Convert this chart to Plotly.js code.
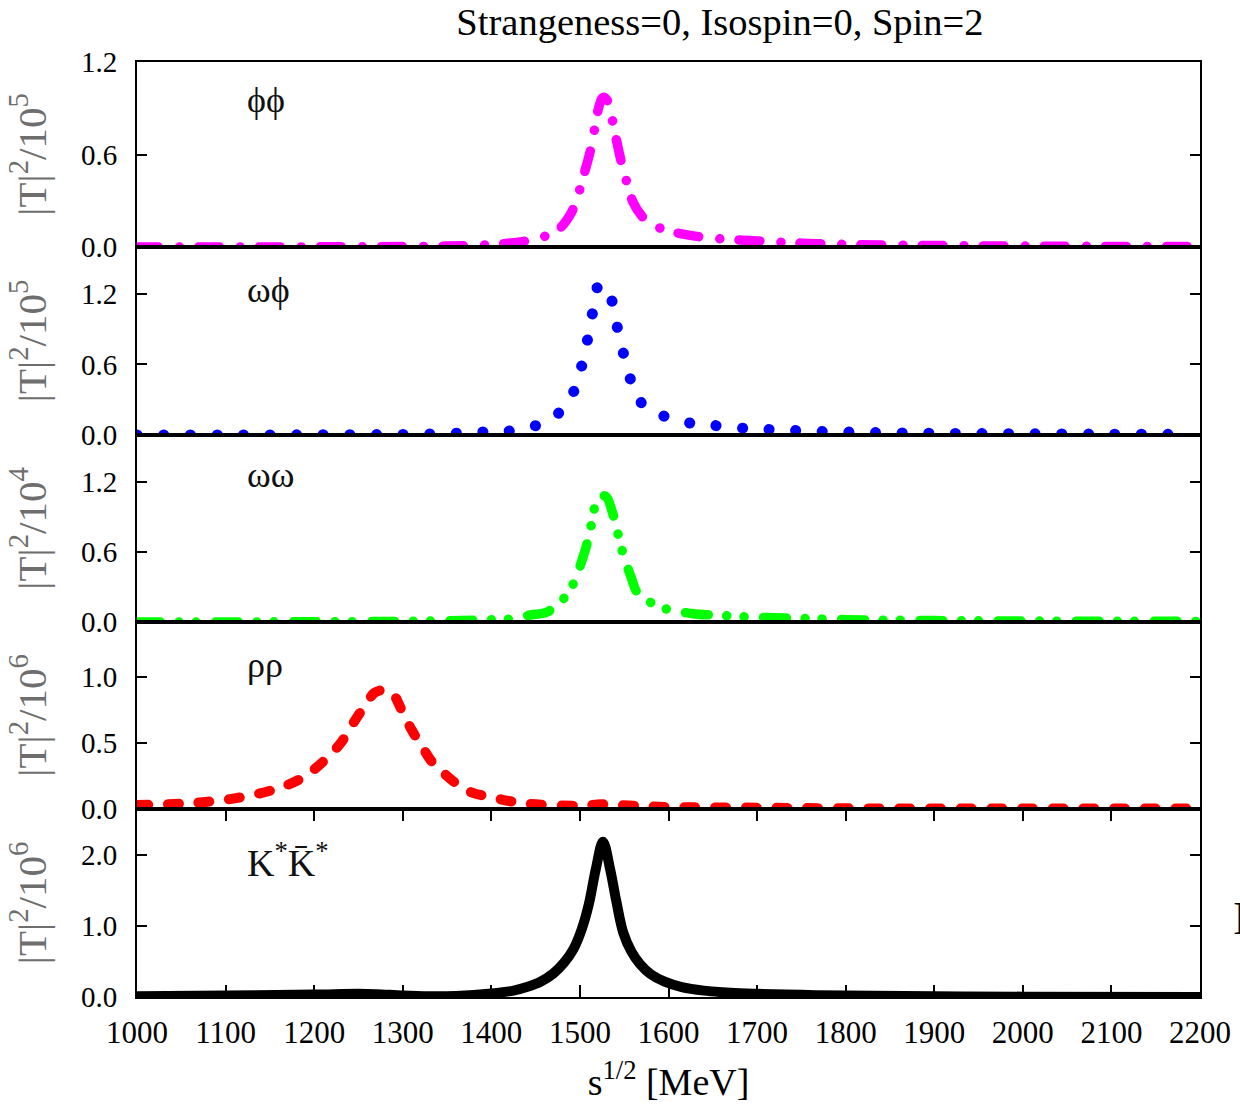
<!DOCTYPE html>
<html><head><meta charset="utf-8">
<script src="https://cdn.plot.ly/plotly-3.0.1.min.js"></script>
<style>html,body{margin:0;padding:0;background:#fff;}#chart{width:1240px;height:1110px;}</style>
</head><body><div id="chart"></div>
<script>
// ---- data ----
const xTicks = [1000,1100,1200,1300,1400,1500,1600,1700,1800,1900,2000,2100,2200];
const xTickLabels = ['1000','1100','1200','1300','1400','1500','1600','1700','1800','1900','2000','2100','2200'];

const xPhiPhi = [1000,1100,1200,1300,1350,1380,1410,1435,1455,1475,1490,1498,1505,1512,1517,1521,1526,1531,1536,1541,1548,1554,1560,1570,1580,1597,1615,1645,1700,1750,1800,1900,2000,2100,2190];
const yPhiPhi = [0.0,0.0,0.001,0.003,0.006,0.01,0.02,0.035,0.06,0.11,0.22,0.34,0.48,0.63,0.78,0.90,0.97,0.95,0.84,0.70,0.52,0.40,0.29,0.20,0.15,0.11,0.085,0.06,0.04,0.025,0.017,0.01,0.006,0.004,0.003];

const xOmegaPhi = [1000,1100,1200,1300,1350,1389,1415,1446,1472,1491,1501,1508,1514,1520,1526,1533,1540,1547,1555,1565,1589,1618,1647,1680,1720,1800,1900,2000,2100,2185];
const yOmegaPhi = [0.0,0.0,0.002,0.005,0.012,0.026,0.03,0.07,0.16,0.34,0.56,0.79,1.03,1.26,1.28,1.22,0.99,0.76,0.53,0.31,0.18,0.11,0.085,0.06,0.045,0.025,0.015,0.01,0.007,0.005];

const xOmegaOmega = [1000,1100,1200,1300,1350,1387,1406,1423,1444,1463,1485,1495,1502,1508,1515,1519,1525,1530,1537,1545,1550,1558,1565,1590,1609,1630,1650,1700,1750,1800,1900,2000,2100,2200];
const yOmegaOmega = [0.0,0.0,0.002,0.005,0.01,0.017,0.02,0.026,0.06,0.085,0.23,0.37,0.52,0.67,0.91,1.06,1.08,1.07,0.93,0.69,0.55,0.38,0.25,0.13,0.094,0.068,0.06,0.04,0.03,0.02,0.012,0.008,0.006,0.005];

const xRhoRho = [1000,1050,1080,1110,1140,1165,1185,1200,1215,1230,1245,1258,1268,1277,1288,1298,1310,1322,1335,1350,1365,1380,1400,1420,1450,1500,1525,1560,1600,1700,1800,2000,2195];
const yRhoRho = [0.03,0.04,0.055,0.08,0.12,0.17,0.23,0.30,0.39,0.50,0.66,0.79,0.88,0.90,0.88,0.76,0.60,0.47,0.34,0.25,0.17,0.12,0.09,0.06,0.035,0.025,0.035,0.025,0.015,0.01,0.005,0.004,0.003];

const xKstarKstar = [1000,1100,1200,1250,1270,1300,1330,1360,1400,1425,1440,1455,1470,1482,1493,1502,1510,1518,1526,1534,1541,1549,1558,1568,1580,1595,1615,1640,1670,1700,1750,1800,1900,2000,2200];
const yKstarKstar = [0.01,0.02,0.035,0.045,0.04,0.02,0.01,0.015,0.05,0.09,0.14,0.21,0.33,0.48,0.68,0.95,1.30,1.80,2.18,1.80,1.35,0.90,0.64,0.46,0.32,0.22,0.14,0.09,0.06,0.045,0.03,0.02,0.01,0.005,0.0];

const panelLabels = ['ϕϕ','ωϕ','ωω','ρρ','K<sup>*</sup>K\u0304<sup>*</sup>'];
const yTitles = ['|T|<sup>2</sup>/10<sup>5</sup>','|T|<sup>2</sup>/10<sup>5</sup>','|T|<sup>2</sup>/10<sup>4</sup>','|T|<sup>2</sup>/10<sup>6</sup>','|T|<sup>2</sup>/10<sup>6</sup>'];
const yTickVals = [[0,0.6,1.2],[0,0.6,1.2],[0,0.6,1.2],[0,0.5,1.0],[0,1.0,2.0]];
const yTickText = [['0.0','0.6','1.2'],['0.0','0.6','1.2'],['0.0','0.6','1.2'],['0.0','0.5','1.0'],['0.0','1.0','2.0']];
const yRanges = [[0,1.2],[0,1.6],[0,1.6],[0,1.417],[0,2.64]];
const chartTitle = 'Strangeness=0, Isospin=0, Spin=2';
const xTitle = 's<sup>1/2</sup> [MeV]';

// ---- layout / styling ----
const serif = '"Liberation Serif", "Times New Roman", serif';
const domains = [[0.8021,1],[0.6011,0.8021],[0.4011,0.6011],[0.2011,0.4011],[0,0.2011]];
const labelY = [0.9594,0.7561,0.5583,0.3551,0.1465];
const labelSize = [36,36,36,36,38];

const traces = [
  {x:xPhiPhi, y:yPhiPhi, xaxis:'x', yaxis:'y', mode:'lines', line:{color:'#ff00ff', width:9.5, dash:'21px,21px,0.1px,19px', shape:'spline'}},
  {x:xOmegaPhi, y:yOmegaPhi, xaxis:'x2', yaxis:'y2', mode:'lines', line:{color:'#0000ff', width:11, dash:'0.1px,26.5px', shape:'spline'}},
  {x:xOmegaOmega, y:yOmegaOmega, xaxis:'x3', yaxis:'y3', mode:'lines', line:{color:'#00ff00', width:9.5, dash:'23px,18.5px,0.1px,17px,0.1px,19.5px', shape:'spline'}},
  {x:xRhoRho, y:yRhoRho, xaxis:'x4', yaxis:'y4', mode:'lines', line:{color:'#ff0000', width:10, dash:'11px,19.7px', shape:'spline'}},
  {x:xKstarKstar, y:yKstarKstar, xaxis:'x5', yaxis:'y5', mode:'lines', line:{color:'#000000', width:10, shape:'spline'}}
];

const layout = {
  width:1240, height:1110,
  margin:{l:137, r:40, t:62, b:113},
  paper_bgcolor:'#ffffff', plot_bgcolor:'#ffffff',
  showlegend:false,
  font:{family:serif, color:'#000000'},
  title:{text:chartTitle, font:{family:serif, size:38.5, color:'#000'}, xref:'container', x:0.5806, xanchor:'center', yref:'container', y:0.981, yanchor:'middle'},
  annotations:[]
};

for (let i=0;i<5;i++){
  const xa = i===0 ? 'xaxis' : 'xaxis'+(i+1);
  const ya = i===0 ? 'yaxis' : 'yaxis'+(i+1);
  const yid = i===0 ? 'y' : 'y'+(i+1);
  const isBottom = (i===4);
  layout[xa] = {
    anchor: yid, domain:[0,1], range:[1000,2200],
    showline:true, mirror: isBottom ? 'ticks' : true, linecolor:'#000', linewidth:2,
    showgrid:false, zeroline:false,
    ticks: isBottom ? 'inside' : '', ticklen:12, tickwidth:2, tickcolor:'#000',
    tickmode:'array', tickvals:xTicks, ticktext:xTickLabels,
    showticklabels:isBottom,
    tickfont:{family:serif, size:31, color:'#000'},
    ticklabelstandoff: 7
  };
  if (isBottom) {
    layout[xa].title = {text:xTitle, font:{family:serif, size:38, color:'#000'}, standoff:19};
  } else {
    layout[xa].matches = 'x5';
  }
  layout[ya] = {
    anchor: i===0 ? 'x' : 'x'+(i+1), domain:domains[i], range:yRanges[i],
    showline:true, mirror:'ticks', linecolor:'#000', linewidth:2,
    showgrid:false, zeroline:false,
    ticks:'inside', ticklen:10, tickwidth:2, tickcolor:'#000',
    tickmode:'array', tickvals:yTickVals[i], ticktext:yTickText[i],
    tickfont:{family:serif, size:29, color:'#000'},
    ticklabelstandoff: 12,
    title:{text:yTitles[i], font:{family:serif, size:41, color:'#6e6e6e'}, standoff:22}
  };
  layout.annotations.push({
    text: panelLabels[i], xref:'paper', yref:'paper', x:0.1016, y:labelY[i],
    xanchor:'left', yanchor:'middle', showarrow:false,
    font:{family:serif, size:labelSize[i], color:'#111'}
  });
}
// stray cut-off glyph at right edge of the reference
layout.annotations.push({text:'I', xref:'paper', yref:'paper', x:1.0290, y:0.0835, xanchor:'left', yanchor:'middle', showarrow:false, font:{family:serif, size:46, color:'#000'}});

Plotly.newPlot('chart', traces, layout, {staticPlot:true, displayModeBar:false}).then(function(gd){
  gd.querySelectorAll('.js-line').forEach(function(p){
    p.style.strokeLinecap = 'round';
    p.style.strokeLinejoin = 'round';
  });
  gd.querySelectorAll('.plot').forEach(function(g){ g.removeAttribute('clip-path'); });
});
</script>
</body></html>
